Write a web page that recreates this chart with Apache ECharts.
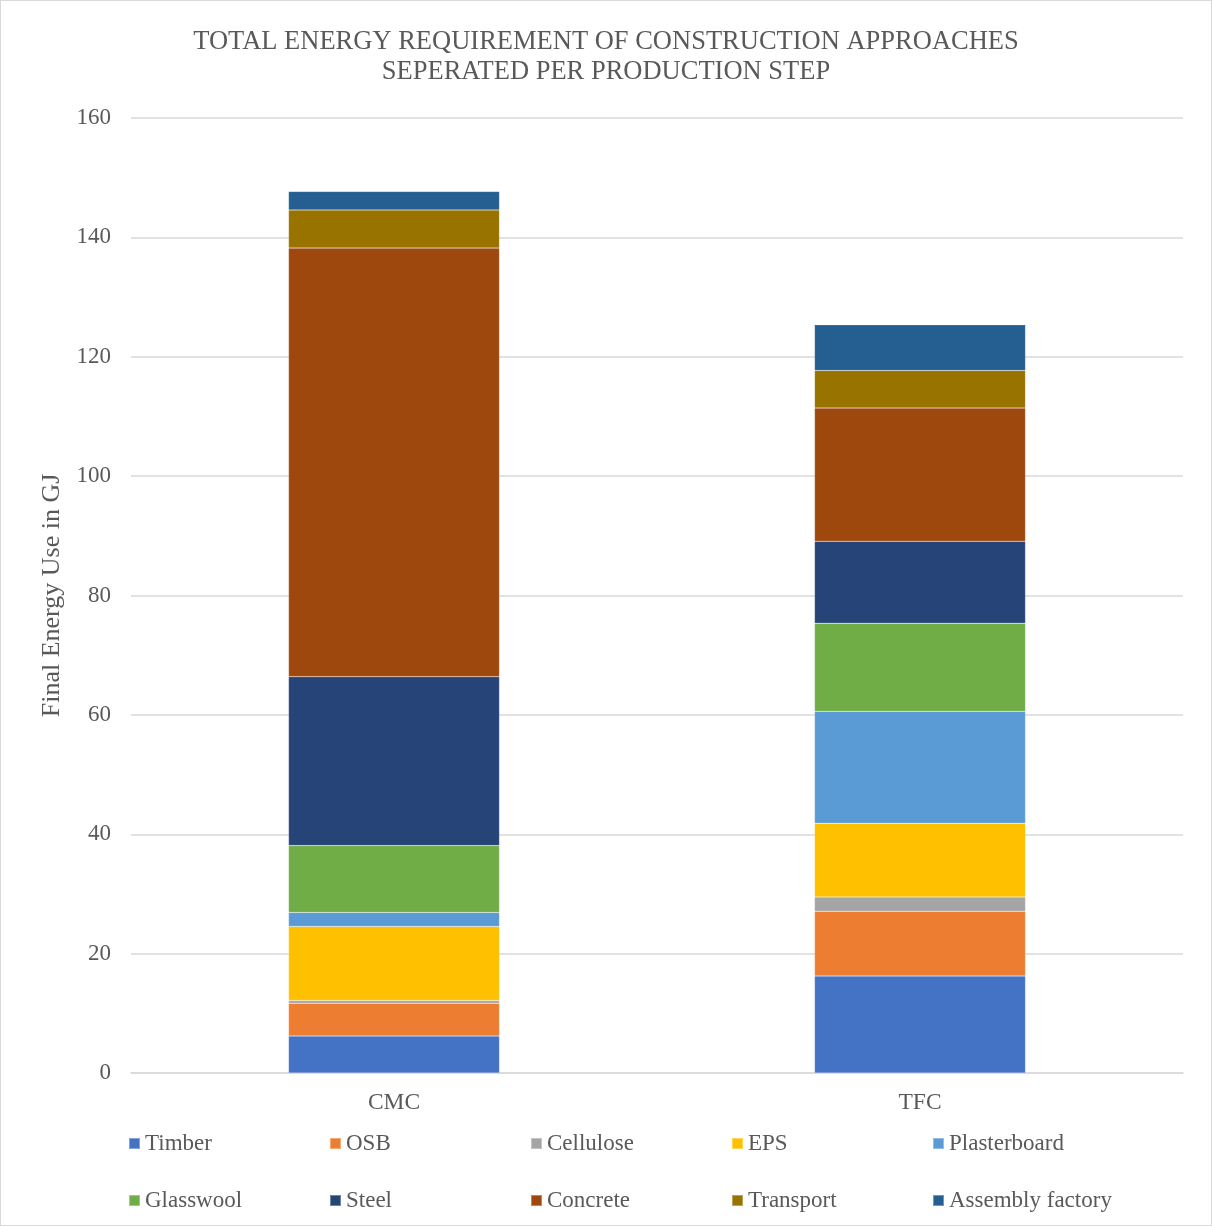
<!DOCTYPE html>
<html>
<head>
<meta charset="utf-8">
<script src="https://cdn.jsdelivr.net/npm/echarts@6/dist/echarts.min.js"></script>
<style>
html,body{margin:0;padding:0;background:#fff;}
#c{width:1210px;height:1224px;border:1px solid #d9d9d9;}
</style>
</head>
<body>
<div id="c"></div>
<script>
const categories = ['CMC', 'TFC'];
const seriesNames = ['Timber','OSB','Cellulose','EPS','Plasterboard','Glasswool','Steel','Concrete','Transport','Assembly factory'];
const timber = [6.2, 16.25];
const osb = [5.5, 10.85];
const cellulose = [0.45, 2.4];
const eps = [12.4, 12.35];
const plasterboard = [2.35, 18.75];
const glasswool = [11.2, 14.75];
const steel = [28.3, 13.75];
const concrete = [71.8, 22.3];
const transport = [6.4, 6.3];
const assembly = [3.1, 7.65];
const yTicks = [0, 20, 40, 60, 80, 100, 120, 140, 160];
const colors = ['#4472C4','#ED7D31','#A5A5A5','#FFC000','#5B9BD5','#70AD47','#264478','#9E480E','#997300','#255E91'];
const values = [timber, osb, cellulose, eps, plasterboard, glasswool, steel, concrete, transport, assembly];

const font = '"Liberation Serif","Times New Roman",serif';
const chart = echarts.init(document.getElementById('c'));
const legends = seriesNames.map((n, i) => ({
  data: [n], left: 122 + (i % 5) * 201, top: i < 5 ? 1126 : 1183,
  itemWidth: 11, itemHeight: 11, icon: 'rect', itemGap: 0,
  textStyle: { fontFamily: font, fontSize: 23, color: '#595959' }
}));
chart.setOption({
  animation: false,
  color: colors,
  title: {
    text: 'TOTAL ENERGY REQUIREMENT OF CONSTRUCTION APPROACHES\nSEPERATED PER PRODUCTION STEP',
    left: 'center', top: 21,
    textStyle: { fontFamily: font, fontSize: 26.5, fontWeight: 'normal', color: '#595959', lineHeight: 30 }
  },
  legend: legends,
  grid: { left: 130, right: 28, top: 117, bottom: 152, containLabel: false },
  xAxis: {
    type: 'category', data: categories,
    axisLine: { lineStyle: { color: '#d9d9d9', width: 1.5 } },
    axisTick: { show: false },
    axisLabel: { fontFamily: font, fontSize: 23.5, color: '#595959', margin: 18 }
  },
  yAxis: {
    type: 'value', min: yTicks[0], max: yTicks[yTicks.length-1], interval: 20,
    name: 'Final Energy Use in GJ', nameLocation: 'middle', nameGap: 66, nameRotate: 90,
    nameTextStyle: { fontFamily: font, fontSize: 26, color: '#595959' },
    axisLine: { show: false }, axisTick: { show: false },
    axisLabel: { fontFamily: font, fontSize: 23, color: '#595959', margin: 20 },
    splitLine: { lineStyle: { color: '#d9d9d9', width: 1.5 } }
  },
  series: seriesNames.map((n, i) => ({
    name: n, type: 'bar', stack: 'total', data: values[i],
    barWidth: 211,
    itemStyle: { color: colors[i], borderColor: 'rgba(255,255,255,0.35)', borderWidth: 0.5 }
  }))
});
</script>
</body>
</html>
